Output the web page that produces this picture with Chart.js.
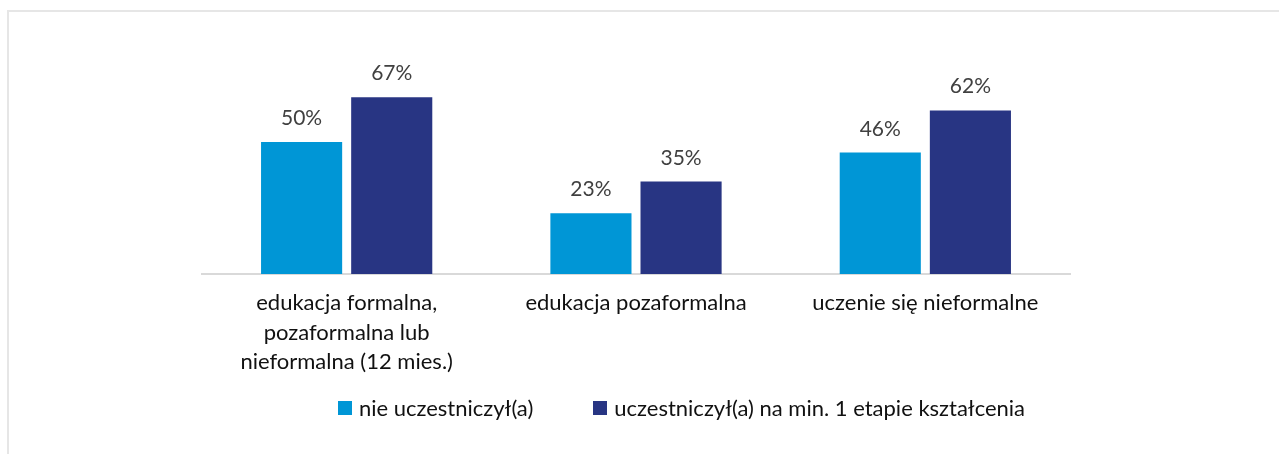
<!DOCTYPE html>
<html>
<head>
<meta charset="utf-8">
<script src="https://cdn.jsdelivr.net/npm/chart.js@4/dist/chart.umd.min.js"></script>
<style>
  html, body { margin: 0; padding: 0; background: #fff; }
  #wrap { position: relative; width: 1279px; height: 454px; overflow: hidden; }
  #frame { position: absolute; left: 7px; top: 10px; width: 1290px; height: 460px;
           border-top: 2px solid #e6e6e6; border-left: 2px solid #e6e6e6; }
  #myChart { position: absolute; left: 0; top: 0; }
  #legend { position: absolute; left: 42px; top: 394px; width: 1279px; display: flex; justify-content: center;
            font-family: Lato, "Open Sans", sans-serif; font-size: 22px; color: #111; }
  #legend span.item { display: flex; align-items: center; margin: 0 30px; }
  #legend span.box { width: 14px; height: 14px; margin-right: 7px; display: inline-block; }
</style>
</head>
<body>
<div id="wrap">
  <div id="frame"></div>
  <canvas id="myChart" width="1279" height="454"></canvas>
  <div id="legend"></div>
</div>
<script>
var categories = [
  ['edukacja formalna,', 'pozaformalna lub', 'nieformalna (12 mies.)'],
  'edukacja pozaformalna',
  'uczenie się nieformalne'
]
var seriesNames = ['nie uczestniczył(a)', 'uczestniczył(a) na min. 1 etapie kształcenia']
var notParticipated = [50, 23, 46]
var participated = [67, 35, 62]
var colors = ['#0096d6', '#283583']

// percentage labels above each bar
var valueLabels = {
  id: 'valueLabels',
  afterDatasetsDraw: function(chart) {
    var ctx = chart.ctx
    ctx.save()
    ctx.font = '21px Lato, "Open Sans", sans-serif'
    ctx.fillStyle = '#404040'
    ctx.textAlign = 'center'
    ctx.textBaseline = 'alphabetic'
    chart.data.datasets.forEach(function(ds, i) {
      chart.getDatasetMeta(i).data.forEach(function(bar, j) {
        ctx.fillText(ds.data[j] + '%', bar.x, bar.y - 17)
      })
    })
    ctx.restore()
  }
}

var chart = new Chart('myChart', {
  type: 'bar',
  data: {
    labels: categories,
    datasets: [{
      label: seriesNames[0],
      backgroundColor: colors[0],
      data: notParticipated
    }, {
      label: seriesNames[1],
      backgroundColor: colors[1],
      data: participated
    }]
  },
  options: {
    responsive: false,
    animation: false,
    layout: { padding: { left: 202, right: 209, top: 63, bottom: 63 } },
    datasets: { bar: { categoryPercentage: 0.623, barPercentage: 0.9 } },
    plugins: {
      legend: { display: false },
      tooltip: { enabled: false }
    },
    scales: {
      y: { display: false, min: 0, max: 80 },
      x: {
        grid: { display: false, drawTicks: false },
        border: { display: true, color: '#d9d9d9', width: 2 },
        ticks: {
          color: '#111',
          padding: 15,
          maxRotation: 0,
          font: { family: 'Lato, "Open Sans", sans-serif', size: 22, lineHeight: 1.32 }
        }
      }
    }
  },
  plugins: [valueLabels]
})

var legendEl = document.getElementById('legend')
chart.data.datasets.forEach(function(ds) {
  var item = document.createElement('span')
  item.className = 'item'
  var box = document.createElement('span')
  box.className = 'box'
  box.style.background = ds.backgroundColor
  item.appendChild(box)
  item.appendChild(document.createTextNode(ds.label))
  legendEl.appendChild(item)
})
</script>
</body>
</html>
